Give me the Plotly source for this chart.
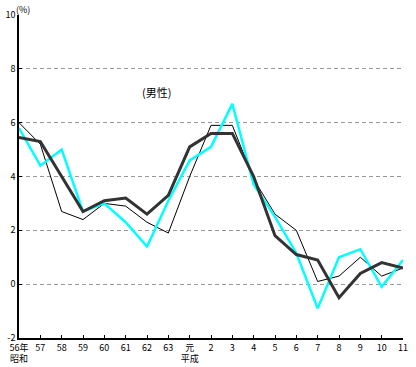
import plotly.graph_objects as go

categories = ["56年<br>昭和", "57", "58", "59", "60", "61", "62", "63", "元<br>平成",
              "2", "3", "4", "5", "6", "7", "8", "9", "10", "11"]
series_cyan = [5.8, 4.4, 5.0, 2.7, 3.0, 2.3, 1.4, 3.1, 4.6, 5.1, 6.7, 3.7, 2.5, 1.15, -0.9, 1.0, 1.3, -0.1, 0.9]
series_dark = [5.45, 5.3, 4.0, 2.7, 3.1, 3.2, 2.6, 3.3, 5.1, 5.6, 5.6, 4.0, 1.8, 1.1, 0.9, -0.5, 0.4, 0.8, 0.6]
series_thin = [6.0, 5.2, 2.7, 2.4, 3.0, 2.9, 2.3, 1.9, 4.0, 5.9, 5.9, 3.9, 2.6, 2.0, 0.1, 0.3, 1.0, 0.3, 0.6]
y_ticks = [-2, 0, 2, 4, 6, 8, 10]
y_tick_labels = ["-2", "0", "2", "4", "6", "8", "10"]

FONT = "Noto Sans CJK JP"

fig = go.Figure()
fig.add_trace(go.Scatter(x=categories, y=series_thin, mode="lines",
                         line=dict(color="#000000", width=1), showlegend=False))
fig.add_trace(go.Scatter(x=categories, y=series_cyan, mode="lines",
                         line=dict(color="#00FFFF", width=2.5), showlegend=False))
fig.add_trace(go.Scatter(x=categories, y=series_dark, mode="lines",
                         line=dict(color="#333333", width=3), showlegend=False))

fig.update_layout(
    width=416, height=367,
    margin=dict(l=18.5, r=12.5, t=15, b=29, autoexpand=False),
    paper_bgcolor="white", plot_bgcolor="white",
    font=dict(family=FONT, size=9, color="black"),
    xaxis=dict(type="category", categoryorder="array", categoryarray=categories,
               range=[0, len(categories) - 1], showgrid=False, zeroline=False,
               showline=True, linecolor="black", linewidth=1.5, automargin=False,
               ticks="inside", ticklen=3, tickcolor="black",
               tickfont=dict(family=FONT, size=9)),
    yaxis=dict(range=[-2, 10], tickvals=y_ticks, ticktext=y_tick_labels,
               showgrid=True, gridcolor="#999999", griddash="4px,3px", gridwidth=1,
               zeroline=False, showline=True, linecolor="black", linewidth=1.5,
               automargin=False, ticks="inside", ticklen=3, tickcolor="black",
               tickfont=dict(family=FONT, size=9)),
    annotations=[
        dict(text="(%)", xref="paper", yref="paper", x=0.0, y=1.0,
             xanchor="left", yanchor="bottom", showarrow=False, xshift=-5, yshift=-3,
             font=dict(family=FONT, size=9)),
        dict(text="(男性)", xref="x", yref="y", x=6.45, y=7.15,
             showarrow=False, font=dict(family=FONT, size=11)),
    ],
)

fig.write_html("out.html", config={"displayModeBar": False},
               post_script="document.body.style.margin='0';document.body.style.overflow='hidden';")
